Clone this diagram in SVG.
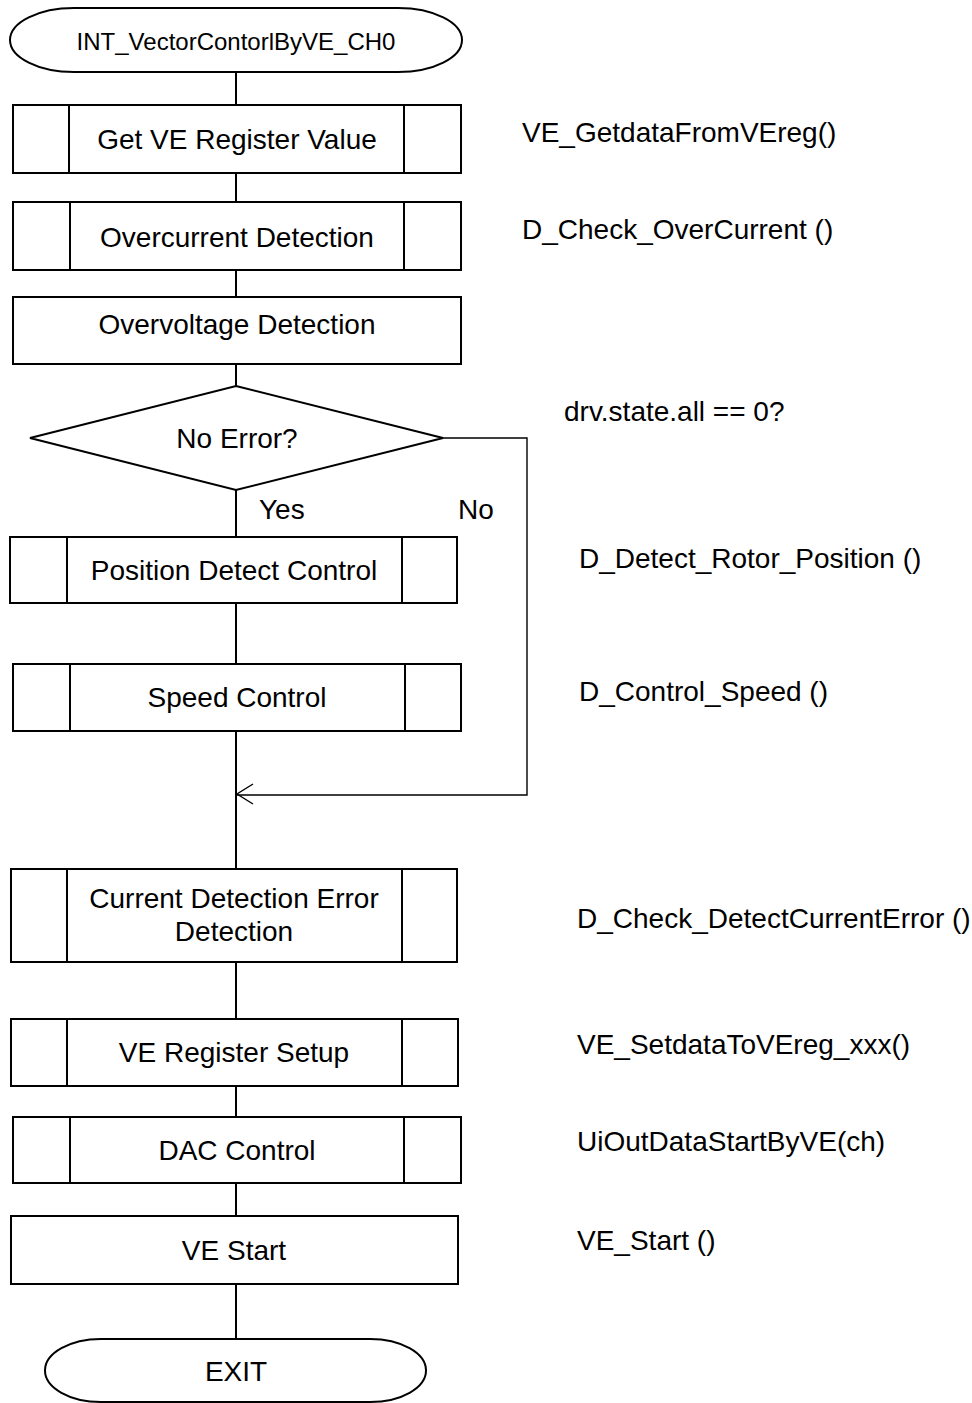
<svg xmlns="http://www.w3.org/2000/svg" width="972" height="1403" viewBox="0 0 972 1403">
  <style>
    .shape { fill: #ffffff; stroke: #000000; stroke-width: 2; }
    .div { stroke: #000000; stroke-width: 2; fill: none; }
    .wire { stroke: #000000; stroke-width: 2; fill: none; }
    .wire-thin { stroke: #000000; stroke-width: 1.4; fill: none; }
    text { font-family: "Liberation Sans", Arial, sans-serif; font-size: 28px; fill: #000000; }
    .c { text-anchor: middle; }
    .title { font-size: 24px; }
  </style>
  <rect x="0" y="0" width="972" height="1403" fill="#ffffff"/>

  <!-- connectors -->
  <g id="connectors">
    <line class="wire" x1="236" y1="72" x2="236" y2="105"/>
    <line class="wire" x1="236" y1="173" x2="236" y2="202"/>
    <line class="wire" x1="236" y1="270" x2="236" y2="297"/>
    <line class="wire" x1="236" y1="364" x2="236" y2="386"/>
    <line class="wire" x1="236" y1="490" x2="236" y2="537"/>
    <line class="wire" x1="236" y1="603" x2="236" y2="664"/>
    <line class="wire" x1="236" y1="731" x2="236" y2="869"/>
    <line class="wire" x1="236" y1="962" x2="236" y2="1019"/>
    <line class="wire" x1="236" y1="1086" x2="236" y2="1117"/>
    <line class="wire" x1="236" y1="1183" x2="236" y2="1216"/>
    <line class="wire" x1="236" y1="1284" x2="236" y2="1339"/>
    <!-- "No" branch bypassing the control blocks -->
    <polyline class="wire-thin" points="443,438 527,438 527,795 237,795"/>
    <polyline class="wire-thin" points="253,784 237,794 253,804"/>
    <text x="259" y="519">Yes</text>
    <text x="458" y="519">No</text>
  </g>

  <g id="start">
    <rect class="shape" x="10" y="8" width="452" height="64" rx="64" ry="32"/>
    <text class="c title" x="236" y="50">INT_VectorContorlByVE_CH0</text>
  </g>

  <g id="get-ve-register">
    <rect class="shape" x="13" y="105" width="448" height="68"/>
    <line class="div" x1="69" y1="105" x2="69" y2="173"/>
    <line class="div" x1="404" y1="105" x2="404" y2="173"/>
    <text class="c" x="237" y="149">Get VE Register Value</text>
    <text x="522" y="142">VE_GetdataFromVEreg()</text>
  </g>

  <g id="overcurrent">
    <rect class="shape" x="13" y="202" width="448" height="68"/>
    <line class="div" x1="70" y1="202" x2="70" y2="270"/>
    <line class="div" x1="404" y1="202" x2="404" y2="270"/>
    <text class="c" x="237" y="247">Overcurrent Detection</text>
    <text x="522" y="239">D_Check_OverCurrent ()</text>
  </g>

  <g id="overvoltage">
    <rect class="shape" x="13" y="297" width="448" height="67"/>
    <text class="c" x="237" y="334">Overvoltage Detection</text>
  </g>

  <g id="no-error">
    <polygon class="shape" points="236,386 443,438 236,490 30,438"/>
    <text class="c" x="237" y="448">No Error?</text>
    <text x="564" y="421">drv.state.all == 0?</text>
  </g>

  <g id="position-detect">
    <rect class="shape" x="10" y="537" width="447" height="66"/>
    <line class="div" x1="67" y1="537" x2="67" y2="603"/>
    <line class="div" x1="402" y1="537" x2="402" y2="603"/>
    <text class="c" x="234" y="580">Position Detect Control</text>
    <text x="579" y="568">D_Detect_Rotor_Position ()</text>
  </g>

  <g id="speed-control">
    <rect class="shape" x="13" y="664" width="448" height="67"/>
    <line class="div" x1="70" y1="664" x2="70" y2="731"/>
    <line class="div" x1="405" y1="664" x2="405" y2="731"/>
    <text class="c" x="237" y="707">Speed Control</text>
    <text x="579" y="701">D_Control_Speed ()</text>
  </g>

  <g id="current-detect-error">
    <rect class="shape" x="11" y="869" width="446" height="93"/>
    <line class="div" x1="67" y1="869" x2="67" y2="962"/>
    <line class="div" x1="402" y1="869" x2="402" y2="962"/>
    <text class="c" x="234" y="908">Current Detection Error</text>
    <text class="c" x="234" y="941">Detection</text>
    <text x="577" y="928">D_Check_DetectCurrentError ()</text>
  </g>

  <g id="ve-register-setup">
    <rect class="shape" x="11" y="1019" width="447" height="67"/>
    <line class="div" x1="67" y1="1019" x2="67" y2="1086"/>
    <line class="div" x1="402" y1="1019" x2="402" y2="1086"/>
    <text class="c" x="234" y="1062">VE Register Setup</text>
    <text x="577" y="1054">VE_SetdataToVEreg_xxx()</text>
  </g>

  <g id="dac-control">
    <rect class="shape" x="13" y="1117" width="448" height="66"/>
    <line class="div" x1="70" y1="1117" x2="70" y2="1183"/>
    <line class="div" x1="404" y1="1117" x2="404" y2="1183"/>
    <text class="c" x="237" y="1160">DAC Control</text>
    <text x="577" y="1151">UiOutDataStartByVE(ch)</text>
  </g>

  <g id="ve-start">
    <rect class="shape" x="11" y="1216" width="447" height="68"/>
    <text class="c" x="234" y="1260">VE Start</text>
    <text x="577" y="1250">VE_Start ()</text>
  </g>

  <g id="exit">
    <rect class="shape" x="45" y="1339" width="381" height="63" rx="56" ry="31.5"/>
    <text class="c" x="236" y="1381">EXIT</text>
  </g>
</svg>
